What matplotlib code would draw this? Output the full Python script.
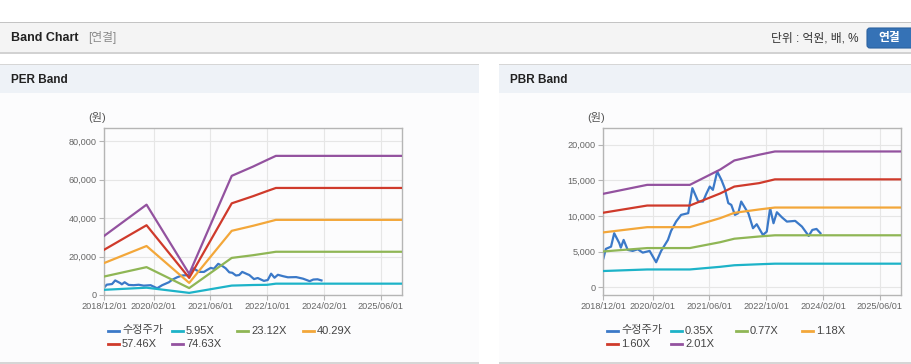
import matplotlib
matplotlib.use("Agg")
import matplotlib.pyplot as plt
import matplotlib.ticker as mticker
from matplotlib.patches import Rectangle, FancyBboxPatch
from matplotlib.lines import Line2D
from matplotlib.transforms import IdentityTransform
import pandas as pd

plt.rcParams["font.family"] = ["Liberation Sans", "Noto Sans CJK KR", "DejaVu Sans"]

# ── DATA ──────────────────────────────────────────────────────────────────────
# adjusted share price (수정주가), same series on both charts
price_dates = ["2018-12-05", "2018-12-25", "2019-02-08", "2019-03-07", "2019-04-20",
               "2019-05-03", "2019-05-27", "2019-07-01", "2019-08-13", "2019-09-25",
               "2019-11-07", "2020-01-05", "2020-03-01", "2020-04-13", "2020-06-10",
               "2020-07-07", "2020-08-19", "2020-10-01", "2020-12-01", "2021-01-06",
               "2021-02-25", "2021-04-07", "2021-05-04", "2021-06-04", "2021-07-01",
               "2021-08-07", "2021-09-12", "2021-10-10", "2021-11-10", "2021-12-06",
               "2022-01-06", "2022-02-03", "2022-03-01", "2022-04-13", "2022-05-01",
               "2022-06-10", "2022-07-12", "2022-09-03", "2022-10-06", "2022-11-04",
               "2022-12-03", "2023-01-01", "2023-02-15", "2023-03-28", "2023-06-07",
               "2023-08-04", "2023-10-01", "2023-11-01", "2023-12-07", "2024-01-10"]
price_values = [4070, 5380, 5700, 7580, 6180, 5560, 6640, 5240, 5100, 5330,
                4860, 5100, 3510, 5100, 6640, 7900, 9210, 10150, 10390, 13900,
                12020, 12020, 13060, 14120, 13660, 16230, 15060, 13900, 11800, 11550,
                10150, 10390, 12020, 10850, 10390, 8280, 8840, 7340, 7800, 11090,
                8980, 10520, 9780, 9210, 9310, 8510, 7200, 8040, 8180, 7580]

# PER band lines
per_dates = ["2018-12-01", "2019-12-01", "2020-12-01", "2021-12-01",
             "2022-06-01", "2022-10-01", "2022-12-15", "2025-12-01"]
per_labels = ["5.95X", "23.12X", "40.29X", "57.46X", "74.63X"]
per_595 = [2700, 3800, 1100, 4900, 5200, 5300, 5900, 5900]
per_2312 = [9600, 14500, 3600, 19300, 20700, 21800, 22500, 22500]
per_4029 = [16600, 25500, 6300, 33400, 36000, 37900, 39100, 39100]
per_5746 = [23500, 36300, 8900, 47700, 51400, 54100, 55700, 55700]
per_7463 = [30700, 47000, 11000, 62000, 66800, 70300, 72400, 72400]

# PBR band lines
pbr_dates = ["2018-12-01", "2019-12-15", "2020-12-15", "2021-09-01",
             "2022-01-01", "2022-08-01", "2022-12-15", "2025-12-01"]
pbr_labels = ["0.35X", "0.77X", "1.18X", "1.60X", "2.01X"]
pbr_035 = [2280, 2500, 2500, 2870, 3090, 3230, 3310, 3310]
pbr_077 = [5020, 5500, 5500, 6320, 6810, 7120, 7290, 7290]
pbr_118 = [7690, 8430, 8430, 9690, 10440, 10910, 11180, 11180]
pbr_160 = [10450, 11460, 11460, 13150, 14120, 14600, 15130, 15130]
pbr_201 = [13100, 14360, 14360, 16500, 17780, 18580, 19040, 19040]

xtick_dates = ["2018-12-01", "2020-02-01", "2021-06-01", "2022-10-01", "2024-02-01", "2025-06-01"]
xtick_labels = ["2018/12/01", "2020/02/01", "2021/06/01", "2022/10/01", "2024/02/01", "2025/06/01"]
per_yticks = [0, 20000, 40000, 60000, 80000]
pbr_yticks = [0, 5000, 10000, 15000, 20000]

# ── STYLE ─────────────────────────────────────────────────────────────────────
W, H = 912, 364
PRICE_COLOR = "#3b79c8"
BAND_COLORS = ["#1db3c8", "#8fb655", "#f3a73a", "#cf3a2b", "#93529f"]
PANEL_BG = "#fcfcfd"


def fx(x):
    return x / W


def fy(y):
    return 1 - y / H


def rect(fig, x0, y0, x1, y1, color, z=0):
    fig.add_artist(Rectangle((fx(x0), fy(y1)), (x1 - x0) / W, (y1 - y0) / H,
                             transform=fig.transFigure, facecolor=color,
                             edgecolor="none", zorder=z))


fig = plt.figure(figsize=(W / 100, H / 100), dpi=100, facecolor="white")

# top header bar
rect(fig, 0, 22, W, 23, "#c4c4c4")
rect(fig, 0, 23, W, 52, "#f4f4f4")
rect(fig, 0, 52, W, 54, "#d2d2d2")
fig.text(fx(11), fy(38), "Band Chart", fontsize=9, fontweight="bold", color="#222222", va="center")
fig.text(fx(88), fy(38), "[연결]", fontsize=8.5, color="#8a8a8a", va="center")
fig.text(fx(859), fy(38.5), "단위 : 억원, 배, %", fontsize=8.5, color="#333333", va="center", ha="right")
fig.add_artist(FancyBboxPatch((867, H - 48), 60, 20, boxstyle="round,pad=0,rounding_size=3",
                              transform=IdentityTransform(), facecolor="#3572b6",
                              edgecolor="#2c62a0", lw=0.8))
fig.text(fx(889), fy(38.5), "연결", fontsize=8.5, fontweight="bold", color="white", va="center", ha="center")

# panels
for x0, x1, title in [(0, 479, "PER Band"), (499, W, "PBR Band")]:
    rect(fig, x0, 64, x1, 65, "#d6d6d6")
    rect(fig, x0, 65, x1, 93, "#eef2f7")
    rect(fig, x0, 93, x1, 362, PANEL_BG)
    rect(fig, x0, 362, x1, 363.5, "#d6d6d6")
    fig.text(fx(x0 + 11), fy(80), title, fontsize=8.5, fontweight="bold", color="#222222", va="center")


def draw_chart(ax_left, dates, bands, labels, ylim, yticks):
    ax = fig.add_axes([fx(ax_left), fy(295), 298 / W, 167 / H])
    ax.set_facecolor(PANEL_BG)

    ax.plot(pd.to_datetime(price_dates), price_values, color=PRICE_COLOR, lw=1.6, zorder=2)
    bx = pd.to_datetime(dates)
    for vals, c in zip(bands, BAND_COLORS):
        ax.plot(bx, vals, color=c, lw=1.6, zorder=3)

    ax.set_xlim(pd.Timestamp("2018-12-01"), pd.Timestamp("2025-12-01"))
    ax.set_ylim(*ylim)
    ax.set_xticks(pd.to_datetime(xtick_dates))
    ax.set_xticklabels(xtick_labels)
    ax.set_yticks(yticks)
    ax.yaxis.set_major_formatter(mticker.FuncFormatter(lambda v, p: f"{int(v):,}"))
    ax.grid(color="#e6e6e6", lw=0.8)
    ax.set_axisbelow(True)
    for s in ax.spines.values():
        s.set_color("#b5b5b5")
        s.set_linewidth(1)
    ax.tick_params(colors="#b5b5b5", labelcolor="#666666", labelsize=6.6,
                   length=3.5, width=0.8, pad=1.8)

    fig.text(fx(ax_left - 16), fy(118), "(원)", fontsize=8, color="#555555", va="center")

    # legend, laid out like the source page
    names = ["수정주가"] + labels
    colors = [PRICE_COLOR] + BAND_COLORS
    cols = [4, 68, 133, 199]
    for i, (name, c) in enumerate(zip(names, colors)):
        lx = ax_left + cols[i % 4]
        ly = 330.5 if i < 4 else 344.3
        fig.add_artist(Line2D([fx(lx), fx(lx + 11)], [fy(ly), fy(ly)],
                              transform=fig.transFigure, color=c, lw=2))
        fig.text(fx(lx + 14), fy(ly), name, fontsize=8, color="#444444", va="center")
    return ax


draw_chart(104, per_dates, [per_595, per_2312, per_4029, per_5746, per_7463],
           per_labels, (0, 86900), per_yticks)
draw_chart(603, pbr_dates, [pbr_035, pbr_077, pbr_118, pbr_160, pbr_201],
           pbr_labels, (-1080, 22330), pbr_yticks)

fig.savefig("out.png", dpi=100, facecolor=fig.get_facecolor())
